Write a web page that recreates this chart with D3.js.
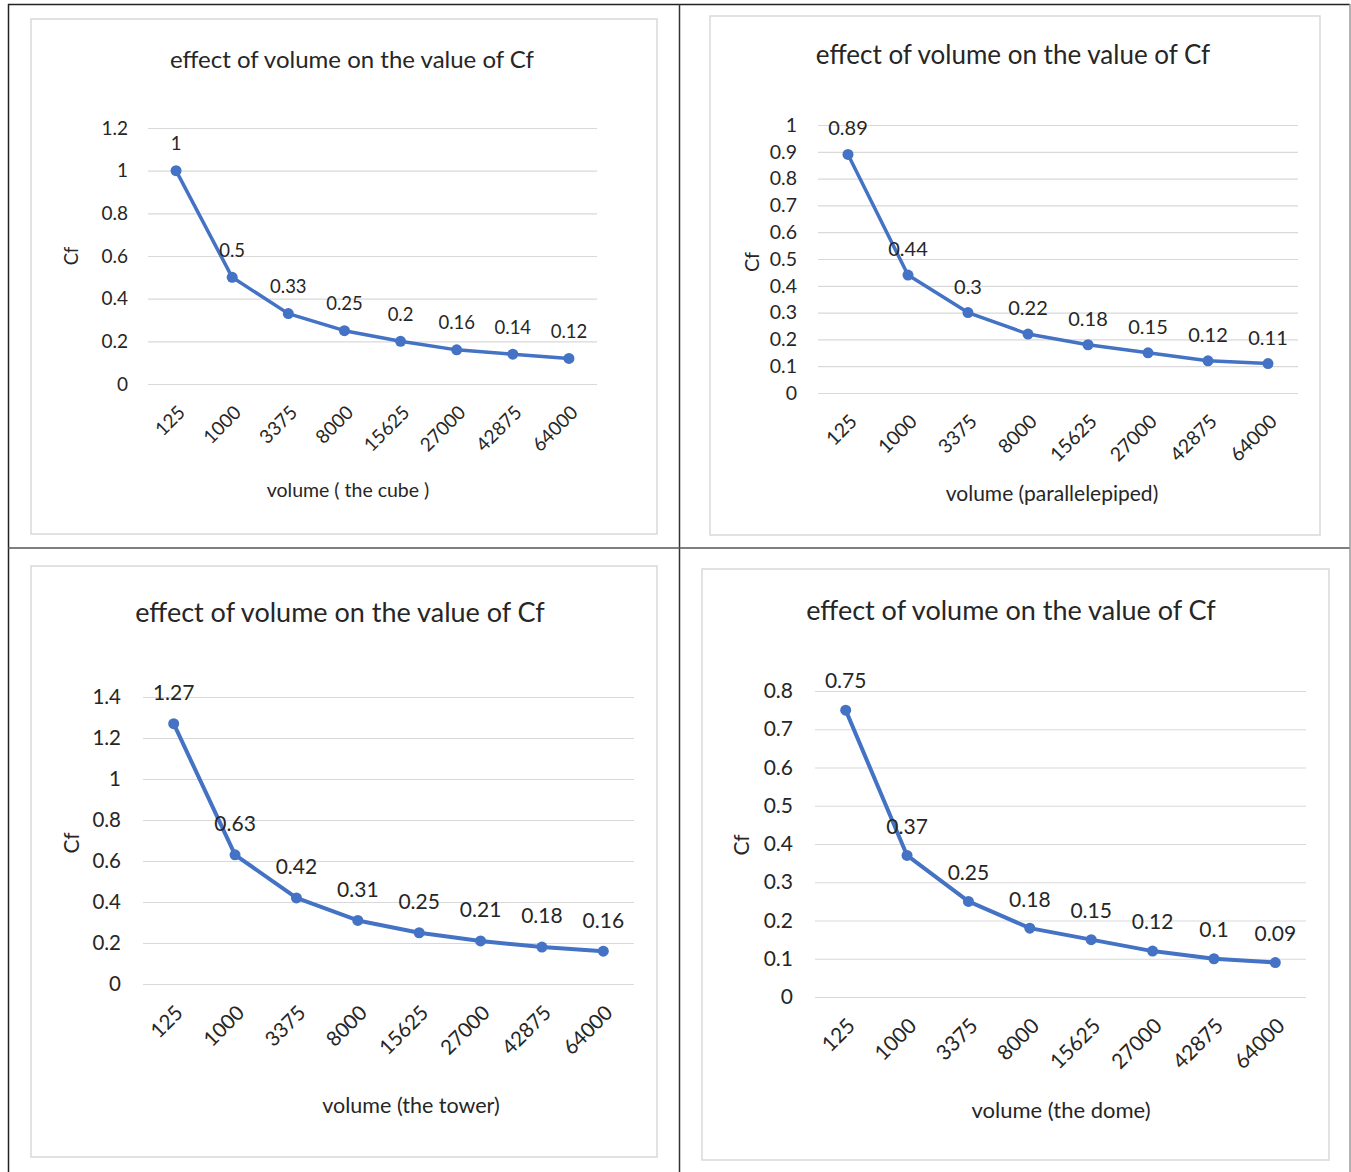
<!DOCTYPE html>
<html>
<head>
<meta charset="utf-8">
<script src="https://cdn.jsdelivr.net/npm/d3@7"></script>
<style>
  body { margin: 0; background: #fff; }
  svg text { font-family: Lato, "Open Sans", sans-serif; fill: #262626; }
</style>
</head>
<body>
<svg id="charts" width="1351" height="1172"></svg>
<script>
// Data
const categories = ["125", "1000", "3375", "8000", "15625", "27000", "42875", "64000"];
const cubeValues = [1, 0.5, 0.33, 0.25, 0.2, 0.16, 0.14, 0.12];
const parallelepipedValues = [0.89, 0.44, 0.3, 0.22, 0.18, 0.15, 0.12, 0.11];
const towerValues = [1.27, 0.63, 0.42, 0.31, 0.25, 0.21, 0.18, 0.16];
const domeValues = [0.75, 0.37, 0.25, 0.18, 0.15, 0.12, 0.1, 0.09];

const cubeTicks = [0, 0.2, 0.4, 0.6, 0.8, 1, 1.2];
const parallelepipedTicks = [0, 0.1, 0.2, 0.3, 0.4, 0.5, 0.6, 0.7, 0.8, 0.9, 1];
const towerTicks = [0, 0.2, 0.4, 0.6, 0.8, 1, 1.2, 1.4];
const domeTicks = [0, 0.1, 0.2, 0.3, 0.4, 0.5, 0.6, 0.7, 0.8];

const chartTitle = "effect of volume on the value of Cf";
const xTitles = ["volume ( the cube )", "volume (parallelepiped)", "volume (the tower)", "volume (the dome)"];

const blue = "#4472c4";
const svg = d3.select("#charts");

// Table lines around the panels
const table = svg.append("g");
table.append("line").attr("x1", 8).attr("x2", 1350).attr("y1", 4.5).attr("y2", 4.5)
  .attr("stroke", "#222").attr("stroke-width", 1.5);
table.append("line").attr("x1", 8.5).attr("x2", 8.5).attr("y1", 4).attr("y2", 1172)
  .attr("stroke", "#222").attr("stroke-width", 1.5);
table.append("line").attr("x1", 679.5).attr("x2", 679.5).attr("y1", 4).attr("y2", 1172)
  .attr("stroke", "#333").attr("stroke-width", 1.5);
table.append("line").attr("x1", 8).attr("x2", 1350).attr("y1", 548).attr("y2", 548)
  .attr("stroke", "#555").attr("stroke-width", 1.5);
table.append("line").attr("x1", 1350).attr("x2", 1350).attr("y1", 4).attr("y2", 1172)
  .attr("stroke", "#999").attr("stroke-width", 1.5);

// Panel layouts
const panels = [
  {
    values: cubeValues, ticks: cubeTicks, xTitle: xTitles[0],
    frame: [31, 19, 657, 534], plot: { left: 148, right: 597, top: 128, bottom: 384 },
    title: [352, 60, 24], tickSize: 19, labelSize: 18.5, xTitleSize: 19.5,
    xTitlePos: [348, 490], yTitlePos: [72, 256],
    labelOffset: 27, tickLabelGap: 20, strokeW: 3.5
  },
  {
    values: parallelepipedValues, ticks: parallelepipedTicks, xTitle: xTitles[1],
    frame: [710, 16, 1320, 535], plot: { left: 818, right: 1298, top: 125, bottom: 393 },
    title: [1013, 55, 26], tickSize: 19.5, labelSize: 20, xTitleSize: 21,
    xTitlePos: [1052, 494], yTitlePos: [752, 262],
    labelOffset: 26, tickLabelGap: 21, strokeW: 3.5
  },
  {
    values: towerValues, ticks: towerTicks, xTitle: xTitles[2],
    frame: [31, 566, 657, 1157], plot: { left: 143, right: 634, top: 697, bottom: 984 },
    title: [340, 613, 27], tickSize: 20.5, labelSize: 21, xTitleSize: 21.5,
    xTitlePos: [411, 1105], yTitlePos: [72, 843],
    labelOffset: 31, tickLabelGap: 22, strokeW: 4
  },
  {
    values: domeValues, ticks: domeTicks, xTitle: xTitles[3],
    frame: [702, 569, 1329, 1160], plot: { left: 815, right: 1306, top: 691, bottom: 997 },
    title: [1011, 611, 27], tickSize: 21, labelSize: 21, xTitleSize: 22,
    xTitlePos: [1061, 1110], yTitlePos: [742, 845],
    labelOffset: 29, tickLabelGap: 22, strokeW: 4
  }
];

panels.forEach((p) => {
  const g = svg.append("g");
  const [fx1, fy1, fx2, fy2] = p.frame;

  // chart frame
  g.append("rect")
    .attr("x", fx1).attr("y", fy1)
    .attr("width", fx2 - fx1).attr("height", fy2 - fy1)
    .attr("fill", "#fff").attr("stroke", "#d9d9d9").attr("stroke-width", 1.5);

  const x = d3.scalePoint().domain(categories).range([p.plot.left, p.plot.right]).padding(0.5);
  const y = d3.scaleLinear().domain([0, d3.max(p.ticks)]).range([p.plot.bottom, p.plot.top]);

  // y axis with gridlines
  const yAxis = g.append("g")
    .attr("transform", `translate(${p.plot.left},0)`)
    .call(d3.axisLeft(y).tickValues(p.ticks).tickFormat(d3.format("~g"))
      .tickSize(-(p.plot.right - p.plot.left)).tickPadding(p.tickLabelGap));
  yAxis.select(".domain").remove();
  yAxis.selectAll(".tick line").attr("stroke", "#d9d9d9").attr("stroke-width", 1.2);
  yAxis.selectAll(".tick text")
    .style("font-family", "Lato, 'Open Sans', sans-serif")
    .style("font-size", p.tickSize + "px").attr("fill", "#262626");

  // x axis labels, rotated
  const xAxis = g.append("g")
    .attr("transform", `translate(0,${p.plot.bottom})`)
    .call(d3.axisBottom(x).tickSize(0).tickPadding(0));
  xAxis.select(".domain").remove();
  xAxis.selectAll(".tick text")
    .style("font-family", "Lato, 'Open Sans', sans-serif")
    .style("font-size", p.tickSize + "px").attr("fill", "#262626")
    .attr("text-anchor", "end")
    .attr("y", 0).attr("dy", "0.35em")
    .attr("transform", "translate(5,25) rotate(-45)");

  // line and markers
  const line = d3.line()
    .x((d, i) => x(categories[i]))
    .y((d) => y(d));

  g.append("path")
    .datum(p.values)
    .attr("fill", "none")
    .attr("stroke", blue)
    .attr("stroke-width", p.strokeW)
    .attr("stroke-linejoin", "round")
    .attr("d", line);

  g.selectAll(".marker")
    .data(p.values)
    .enter()
    .append("circle")
    .attr("class", "marker")
    .attr("cx", (d, i) => x(categories[i]))
    .attr("cy", (d) => y(d))
    .attr("r", 5.5)
    .attr("fill", blue);

  // data labels
  g.selectAll(".value-label")
    .data(p.values)
    .enter()
    .append("text")
    .attr("class", "value-label")
    .attr("x", (d, i) => x(categories[i]))
    .attr("y", (d) => y(d) - p.labelOffset)
    .attr("dy", "0.35em")
    .attr("text-anchor", "middle")
    .style("font-size", p.labelSize + "px")
    .text((d) => d);

  // titles
  g.append("text")
    .attr("x", p.title[0]).attr("y", p.title[1])
    .attr("dy", "0.35em").attr("text-anchor", "middle")
    .style("font-size", p.title[2] + "px")
    .text(chartTitle);

  g.append("text")
    .attr("x", p.xTitlePos[0]).attr("y", p.xTitlePos[1])
    .attr("dy", "0.35em").attr("text-anchor", "middle")
    .style("font-size", p.xTitleSize + "px")
    .text(p.xTitle);

  g.append("text")
    .attr("transform", `translate(${p.yTitlePos[0]},${p.yTitlePos[1]}) rotate(-90)`)
    .attr("dy", "0.35em").attr("text-anchor", "middle")
    .style("font-size", p.labelSize + "px")
    .text("Cf");
});
</script>
</body>
</html>
